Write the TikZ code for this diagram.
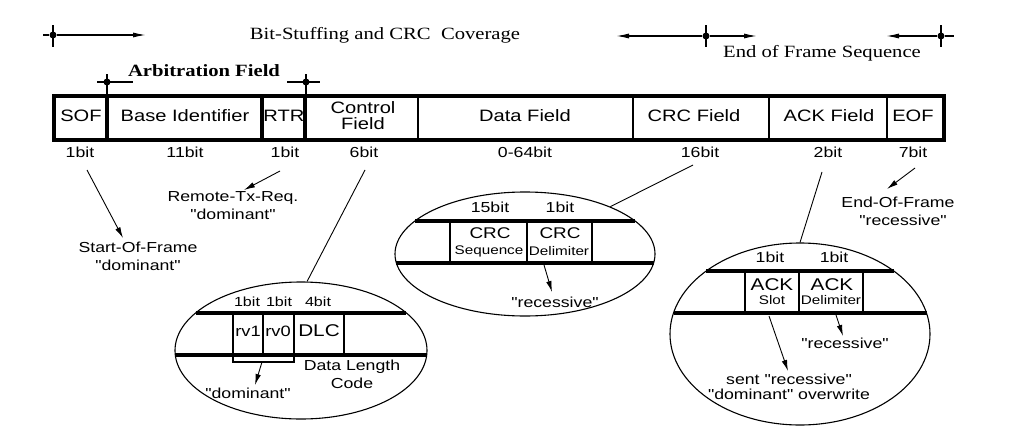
\documentclass[tikz,border=0pt]{standalone}
\usepackage{fontspec}
\usetikzlibrary{shapes.geometric,arrows.meta}
\newfontfamily\af[FakeStretch=1.22]{Liberation Sans}
\newfontfamily\tf[FakeStretch=1.2]{Liberation Serif}
\newcommand\myfs[1]{\fontsize{#1}{#1}\selectfont}
\begin{document}
\begin{tikzpicture}[x=1pt,y=-1pt,
  serif/.style={font=\tf\myfs{17.2}, inner sep=0},
  serifb/.style={font=\tf\bfseries\myfs{17.2}, inner sep=0},
  fieldtxt/.style={font=\af\fontsize{16.5}{16}\selectfont, inner sep=0, align=center},
  bittxt/.style={font=\af\myfs{14.5}, inner sep=0},
  bitsmall/.style={font=\af\myfs{13.2}, inner sep=0},
  note/.style={font=\af\fontsize{14.5}{18}\selectfont, inner sep=0, align=center},
  notetight/.style={font=\af\fontsize{14.5}{14.5}\selectfont, inner sep=0, align=center},
  big/.style={font=\af\myfs{15.5}, inner sep=0},
  small/.style={font=\af\myfs{12.5}, inner sep=0},
  frame/.style={line width=3.5pt},
  div/.style={line width=2pt},
  band/.style={line width=3.5pt},
  cellv/.style={line width=2.5pt},
  tick/.style={line width=2.6pt},
  hline/.style={line width=1.6pt},
  dot/.style={circle, fill, inner sep=0, minimum size=7pt},
  tarr/.style={line width=1.6pt, -{Latex[length=14pt,width=5pt]}},
  arr/.style={line width=0.9pt, -{Latex[length=11pt,width=5.5pt]}},
  conn/.style={line width=0.9pt},
  ell/.style={ellipse, draw, line width=1.1pt, inner sep=0}
]
\useasboundingbox (0,0) rectangle (1033,447);

% ---------- top coverage annotations ----------
\node[serif] (bsc) at (385,35) {Bit-Stuffing and CRC\ \ Coverage};
\node[serif] (efs) at (822,53) {End of Frame Sequence};
\node[serifb] (arb) at (204,71) {Arbitration Field};

\node[dot] (m1) at (53,35) {};
\coordinate (m1l) at (43,35); \coordinate (m1r) at (147,35);
\draw[tick] (53,25) -- (53,47);
\draw[hline] (m1l) -- (m1);
\draw[tarr] (m1) -- (m1r);

\node[dot] (m2) at (706,36) {};
\coordinate (m2l) at (615,36); \coordinate (m2r) at (758,36);
\draw[tick] (706,25) -- (706,47);
\draw[tarr] (m2) -- (m2l);
\draw[tarr] (m2) -- (m2r);

\node[dot] (m3) at (941,36) {};
\coordinate (m3l) at (885,36); \coordinate (m3r) at (954,36);
\draw[tick] (941,25) -- (941,47);
\draw[tarr] (m3) -- (m3l);
\draw[hline] (m3) -- (m3r);

\node[dot] (a1) at (107,82) {};
\draw[tick] (107,74) -- (107,96);
\draw[hline] (97,82) -- (133,82);
\node[dot] (a2) at (306,82) {};
\draw[tick] (306,74) -- (306,96);
\draw[hline] (287,82) -- (320,82);

% ---------- frame ----------
\draw[frame] (54,96) rectangle (944,140);
\foreach \x in {107,262,305} \draw[frame] (\x,96) -- (\x,140);
\foreach \x in {418,633,769,887} \draw[div] (\x,96) -- (\x,140);

\node[fieldtxt] (fsof)  at (81,116)  {SOF};
\node[fieldtxt] (fbase) at (185,116) {Base Identifier};
\node[fieldtxt] (frtr)  at (284,116) {RTR};
\node[fieldtxt] (fctrl) at (363,116) {Control\\Field};
\node[fieldtxt] (fdata) at (525,116) {Data Field};
\node[fieldtxt] (fcrc)  at (694,116) {CRC Field};
\node[fieldtxt] (fack)  at (829,116) {ACK Field};
\node[fieldtxt] (feof)  at (913,116) {EOF};

\node[bittxt] (bsof)  at (80,152)  {1bit};
\node[bittxt] (bbase) at (185,152) {11bit};
\node[bittxt] (brtr)  at (285,152) {1bit};
\node[bittxt] (bctrl) at (364,152) {6bit};
\node[bittxt] (bdata) at (525,152) {0-64bit};
\node[bittxt] (bcrc)  at (700,152) {16bit};
\node[bittxt] (back)  at (828,152) {2bit};
\node[bittxt] (beof)  at (913,152) {7bit};

% ---------- simple annotations ----------
\node[note] (sofT) at (138,256) {Start-Of-Frame\\"dominant"};
\coordinate (s1) at (87,170); \coordinate (t1) at (123,238);
\draw[arr] (s1) -- (t1);

\node[note] (rtrT) at (233,206) {Remote-Tx-Req.\\"dominant"};
\coordinate (s2) at (280,171); \coordinate (t2) at (244,190);
\draw[arr] (s2) -- (t2);

\node[note] (eofT) at (898,211) {End-Of-Frame\\\hspace*{10pt}"recessive"};
\coordinate (s7) at (915,168); \coordinate (t7) at (887,189);
\draw[arr] (s7) -- (t7);

% ---------- control field ellipse ----------
\node[ell, minimum width=252pt, minimum height=137pt] (ctrlE) at (301,350.5) {};
\coordinate (s3) at (365,170);
\draw[conn] (s3) -- (ctrlE.85);
\draw[band] (195.6,313) -- (406.4,313);
\draw[band] (175.3,355) -- (426.7,355);
\foreach \x in {233,263,294,344} \draw[cellv] (\x,313) -- (\x,355);
\node[bitsmall] (cb1) at (247,302) {1bit};
\node[bitsmall] (cb2) at (279,302) {1bit};
\node[bitsmall] (cb3) at (318,302) {4bit};
\node[font=\af\myfs{15}, inner sep=0] (rv1) at (248,331) {rv1};
\node[font=\af\myfs{15}, inner sep=0] (rv0) at (278,331) {rv0};
\node[font=\af\myfs{17}, inner sep=0] (dlc) at (319,331) {DLC};
\draw[line width=1.5pt] (233,355) -- (233,362) -- (294,362) -- (294,355);
\coordinate (s4) at (262,362);
\node[bittxt] (domC) at (248,393) {"dominant"};
\coordinate (t4) at (255,385);
\draw[arr] (s4) -- (t4);
\node[note] (dlcT) at (352,374) {Data Length\\Code};

% ---------- CRC ellipse ----------
\node[ell, minimum width=260pt, minimum height=124pt] (crcE) at (525,254) {};
\coordinate (s5) at (693,165);
\draw[conn] (s5) -- (crcE.29);
\draw[band] (415,221) -- (635,221);
\draw[band] (396.4,263) -- (653.6,263);
\foreach \x in {450,527,592} \draw[cellv] (\x,221) -- (\x,263);
\node[bittxt] (rb1) at (490,207) {15bit};
\node[bittxt] (rb2) at (560,207) {1bit};
\node[big] (crc1) at (490,233) {CRC};
\node[small] (seq) at (489,251) {Sequence};
\node[big] (crc2) at (560,233) {CRC};
\node[small] (del1) at (559,251) {Delimiter};
\node[bittxt] (recC) at (555,302) {"recessive"};
\coordinate (s6) at (544,265); \coordinate (t6) at (552,292);
\draw[arr] (s6) -- (t6);

% ---------- ACK ellipse ----------
\node[ell, minimum width=260pt, minimum height=182pt] (ackE) at (800,334) {};
\coordinate (s8) at (822,172);
\draw[conn] (s8) -- (ackE.north);
\draw[band] (706,271) -- (894,271);
\draw[band] (673.5,313) -- (926.5,313);
\foreach \x in {745,799,863} \draw[cellv] (\x,271) -- (\x,313);
\node[bittxt] (ab1) at (770,257) {1bit};
\node[bittxt] (ab2) at (834,257) {1bit};
\node[font=\af\myfs{17}, inner sep=0] (ack1) at (772,285) {ACK};
\node[small] (slot) at (772,300) {Slot};
\node[font=\af\myfs{17}, inner sep=0] (ack2) at (832,285) {ACK};
\node[small] (del2) at (831,300) {Delimiter};
\node[notetight] (sentT) at (789,387) {sent "recessive"\\"dominant" overwrite};
\coordinate (s9) at (769,316); \coordinate (t9) at (788,371);
\draw[arr] (s9) -- (t9);
\node[bittxt] (recA) at (845,343) {"recessive"};
\coordinate (s10) at (836,315); \coordinate (t10) at (843,336);
\draw[arr] (s10) -- (t10);
\end{tikzpicture}
\end{document}
